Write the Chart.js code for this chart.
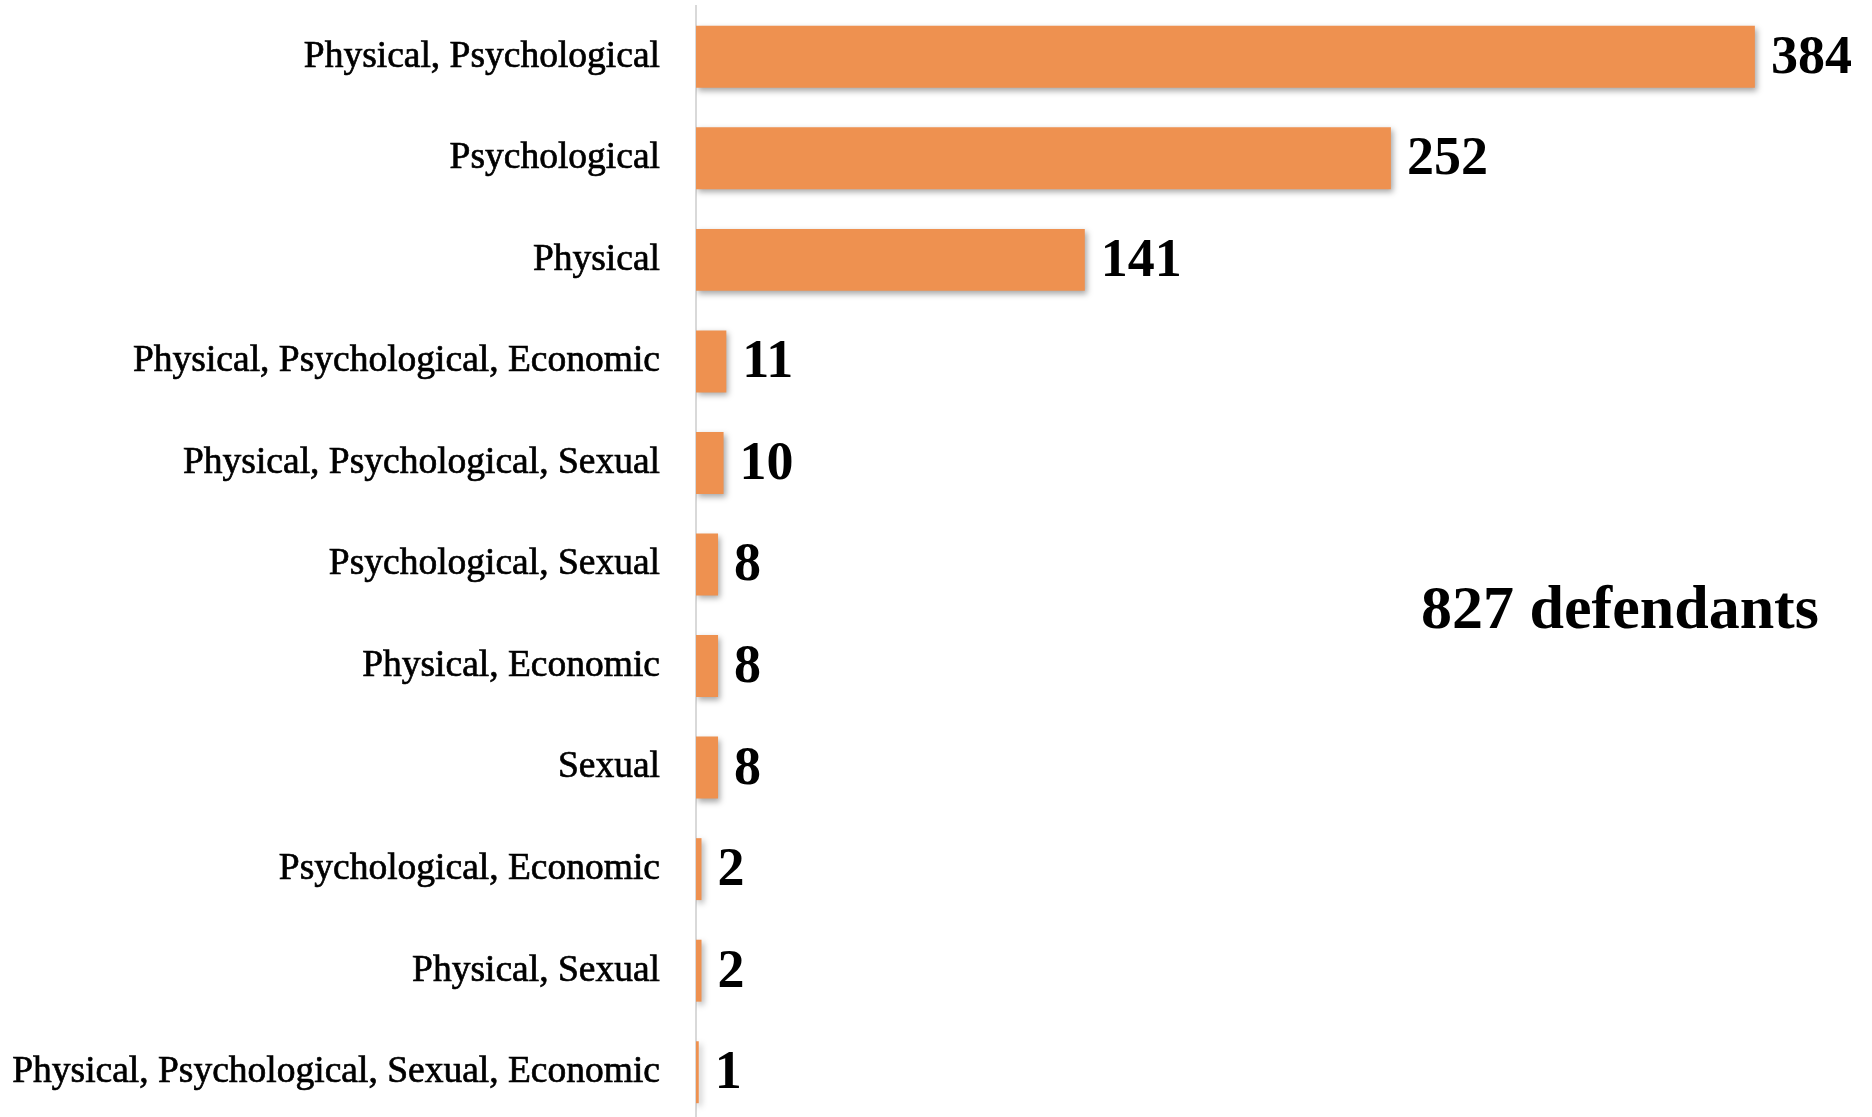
<!DOCTYPE html>
<html>
<head>
<meta charset="utf-8">
<script src="https://cdn.jsdelivr.net/npm/chart.js@4/dist/chart.umd.min.js"></script>
<style>
  html, body { margin: 0; padding: 0; background: #fff; overflow: hidden; }
  #wrap { width: 1872px; height: 1123px; position: relative; }
</style>
</head>
<body>
<div id="wrap"><canvas id="chart"></canvas></div>
<script>
const categories = [
  'Physical, Psychological',
  'Psychological',
  'Physical',
  'Physical, Psychological, Economic',
  'Physical, Psychological, Sexual',
  'Psychological, Sexual',
  'Physical, Economic',
  'Sexual',
  'Psychological, Economic',
  'Physical, Sexual',
  'Physical, Psychological, Sexual, Economic'
];
const defendants = [384, 252, 141, 11, 10, 8, 8, 8, 2, 2, 1];
const totalNote = '827 defendants';

const SERIF = '"Liberation Serif", "DejaVu Serif", serif';

/* drop shadow under the bars */
const barShadow = {
  id: 'barShadow',
  beforeDatasetsDraw(chart) {
    const ctx = chart.ctx;
    ctx.save();
    ctx.shadowColor = 'rgba(0,0,0,0.35)';
    ctx.shadowBlur = 6;
    ctx.shadowOffsetX = 2;
    ctx.shadowOffsetY = 3;
  },
  afterDatasetsDraw(chart) { chart.ctx.restore(); }
};

/* value labels at bar ends + total note */
const valueLabels = {
  id: 'valueLabels',
  afterDraw(chart) {
    const ctx = chart.ctx;
    const meta = chart.getDatasetMeta(0);
    ctx.save();
    ctx.fillStyle = '#000';
    ctx.font = 'bold 54px ' + SERIF;
    ctx.textAlign = 'left';
    ctx.textBaseline = 'middle';
    meta.data.forEach((bar, i) => {
      ctx.fillText(String(defendants[i]), bar.x + 16, bar.y + 2);
    });
    ctx.font = 'bold 62px ' + SERIF;
    ctx.fillText(totalNote, 1421, 612);
    ctx.restore();
  }
};

new Chart(document.getElementById('chart'), {
  type: 'bar',
  data: {
    labels: categories,
    datasets: [{
      data: defendants,
      backgroundColor: '#ee9150',
      borderWidth: 0,
      categoryPercentage: 1,
      barPercentage: 0.61
    }]
  },
  options: {
    indexAxis: 'y',
    responsive: true,
    maintainAspectRatio: false,
    animation: false,
    layout: { padding: { top: 6, right: 73, bottom: 0, left: 0 } },
    plugins: { legend: { display: false }, tooltip: { enabled: false } },
    scales: {
      x: { display: false, min: 0, max: 400, grid: { display: false } },
      y: {
        grid: { display: false, drawTicks: false },
        border: { display: true, color: '#d9d9d9', width: 2 },
        ticks: {
          color: '#000', padding: 36,
          textStrokeColor: '#000', textStrokeWidth: 0.7,
          font: { family: SERIF, size: 37.5 }
        },
        afterFit(scale) {
          scale.width = 696;
          scale.paddingTop = 0;
          scale.paddingBottom = 0;
        }
      }
    }
  },
  plugins: [barShadow, valueLabels]
});
</script>
</body>
</html>
